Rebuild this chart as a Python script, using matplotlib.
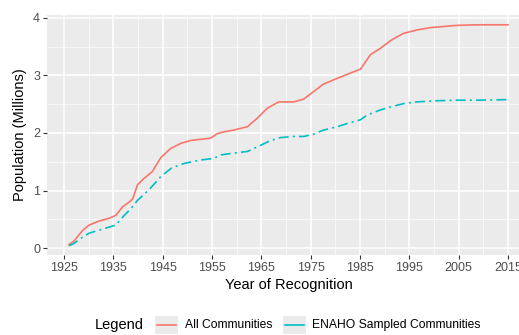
import matplotlib
matplotlib.use("Agg")
import matplotlib.pyplot as plt
from matplotlib.lines import Line2D
from matplotlib.patches import Rectangle
import numpy as np

plt.rcParams['font.family'] = ['Liberation Sans', 'DejaVu Sans']

# ---- data ----
years_all = [1926, 1927, 1928.8, 1930.1, 1932.1, 1934.2, 1935.5, 1936.9, 1937.9, 1938.9,
             1939.9, 1941.2, 1942.9, 1944.6, 1946.6, 1948.7, 1950.7, 1952.7, 1954.7,
             1956.1, 1957.4, 1959.4, 1962.2, 1964.2, 1966.2, 1968.5, 1971.6, 1973.6,
             1975.6, 1977.6, 1980.4, 1983, 1985.1, 1987.1, 1989.1, 1991.1, 1992.5,
             1993.8, 1996.5, 1999.2, 2001.9, 2004.6, 2008.7, 2015]
pop_all = [0.06, 0.12, 0.31, 0.40, 0.47, 0.52, 0.57, 0.72, 0.78, 0.85,
           1.10, 1.21, 1.33, 1.57, 1.73, 1.82, 1.87, 1.89, 1.91,
           1.99, 2.02, 2.05, 2.11, 2.26, 2.43, 2.54, 2.54, 2.59,
           2.72, 2.85, 2.95, 3.04, 3.11, 3.36, 3.47, 3.60, 3.67,
           3.73, 3.79, 3.83, 3.85, 3.87, 3.88, 3.88]

years_enaho = [1926, 1927, 1928.4, 1930.1, 1932.8, 1935.5, 1936.9, 1938.6, 1939.9, 1942.3,
               1944.7, 1946.8, 1949.3, 1952.7, 1955.4, 1956.8, 1959.4, 1962.2, 1964.2,
               1966.9, 1968.9, 1971.6, 1973.6, 1975.6, 1977.6, 1980.4, 1983, 1985.1,
               1986.4, 1989.1, 1991.1, 1993.8, 1996.5, 2000.6, 2004.6, 2008.7, 2015]
pop_enaho = [0.04, 0.08, 0.17, 0.26, 0.33, 0.40, 0.54, 0.69, 0.83, 1.02,
             1.25, 1.39, 1.47, 1.53, 1.56, 1.62, 1.65, 1.68, 1.76,
             1.87, 1.92, 1.94, 1.94, 1.98, 2.05, 2.11, 2.18, 2.23,
             2.31, 2.40, 2.45, 2.51, 2.54, 2.56, 2.57, 2.57, 2.58]

x_ticks = [1925, 1935, 1945, 1955, 1965, 1975, 1985, 1995, 2005, 2015]
y_ticks = [0, 1, 2, 3, 4]
series_labels = ["All Communities", "ENAHO Sampled Communities"]
colors = ["#F8766D", "#00BFC4"]

W, H = 519, 335
fig = plt.figure(figsize=(W / 100, H / 100), dpi=100)
L, R, T, B = 47, 530, 15, 255
ax = fig.add_axes([L / W, (H - B) / H, (R - L) / W, (B - T) / H])
ax.set_facecolor("#EBEBEB")
for s in ax.spines.values():
    s.set_visible(False)

dotdash = (0, (6, 2.5, 1.2, 2.5))
ax.plot(years_all, pop_all, color=colors[0], lw=1.2, solid_joinstyle='round')
ax.plot(years_enaho, pop_enaho, color=colors[1], lw=1.2, linestyle=dotdash)

xr = max(years_all) - min(years_all)
ax.set_xlim(min(years_all) - 0.05 * xr, max(years_all) + 0.05 * xr)
ax.set_ylim(-0.12, 4.05)

ax.set_xticks(x_ticks)
ax.set_yticks(y_ticks)
ax.set_xticks([v + 5 for v in x_ticks[:-1]], minor=True)
ax.set_yticks([v + 0.5 for v in y_ticks[:-1]], minor=True)
ax.grid(True, which='major', color='white', lw=1.1)
ax.grid(True, which='minor', color='white', lw=0.5)
ax.set_axisbelow(True)
ax.tick_params(which='major', length=3, width=0.8, color='#333333',
               labelcolor='#4D4D4D', labelsize=9, pad=2)
ax.tick_params(which='minor', length=0)

ax.set_xlabel("Year of Recognition", fontsize=10.5, color='black', labelpad=3)
ax.set_ylabel("Population (Millions)", fontsize=10.5, color='black', labelpad=4)

# ---- legend at bottom ----
ly = 325
fig.text(95 / W, 1 - ly / H, "Legend", fontsize=10.5, va='center', ha='left')
keys = [(155, 178, 185), (283, 306, 312)]
for (x0, x1, tx), lab, c, ls in zip(keys, series_labels, colors, ['-', dotdash]):
    fig.patches.append(Rectangle((x0 / W, 1 - (ly + 9) / H), (x1 - x0) / W, 18 / H,
                                 transform=fig.transFigure, facecolor='#EBEBEB',
                                 edgecolor='none'))
    fig.lines.append(Line2D([(x0 + 2) / W, (x1 - 2) / W], [1 - ly / H, 1 - ly / H],
                            transform=fig.transFigure, color=c, lw=1.2))
    fig.text(tx / W, 1 - ly / H, lab, fontsize=8.7, va='center', ha='left')

fig.savefig("out.png", dpi=100)
